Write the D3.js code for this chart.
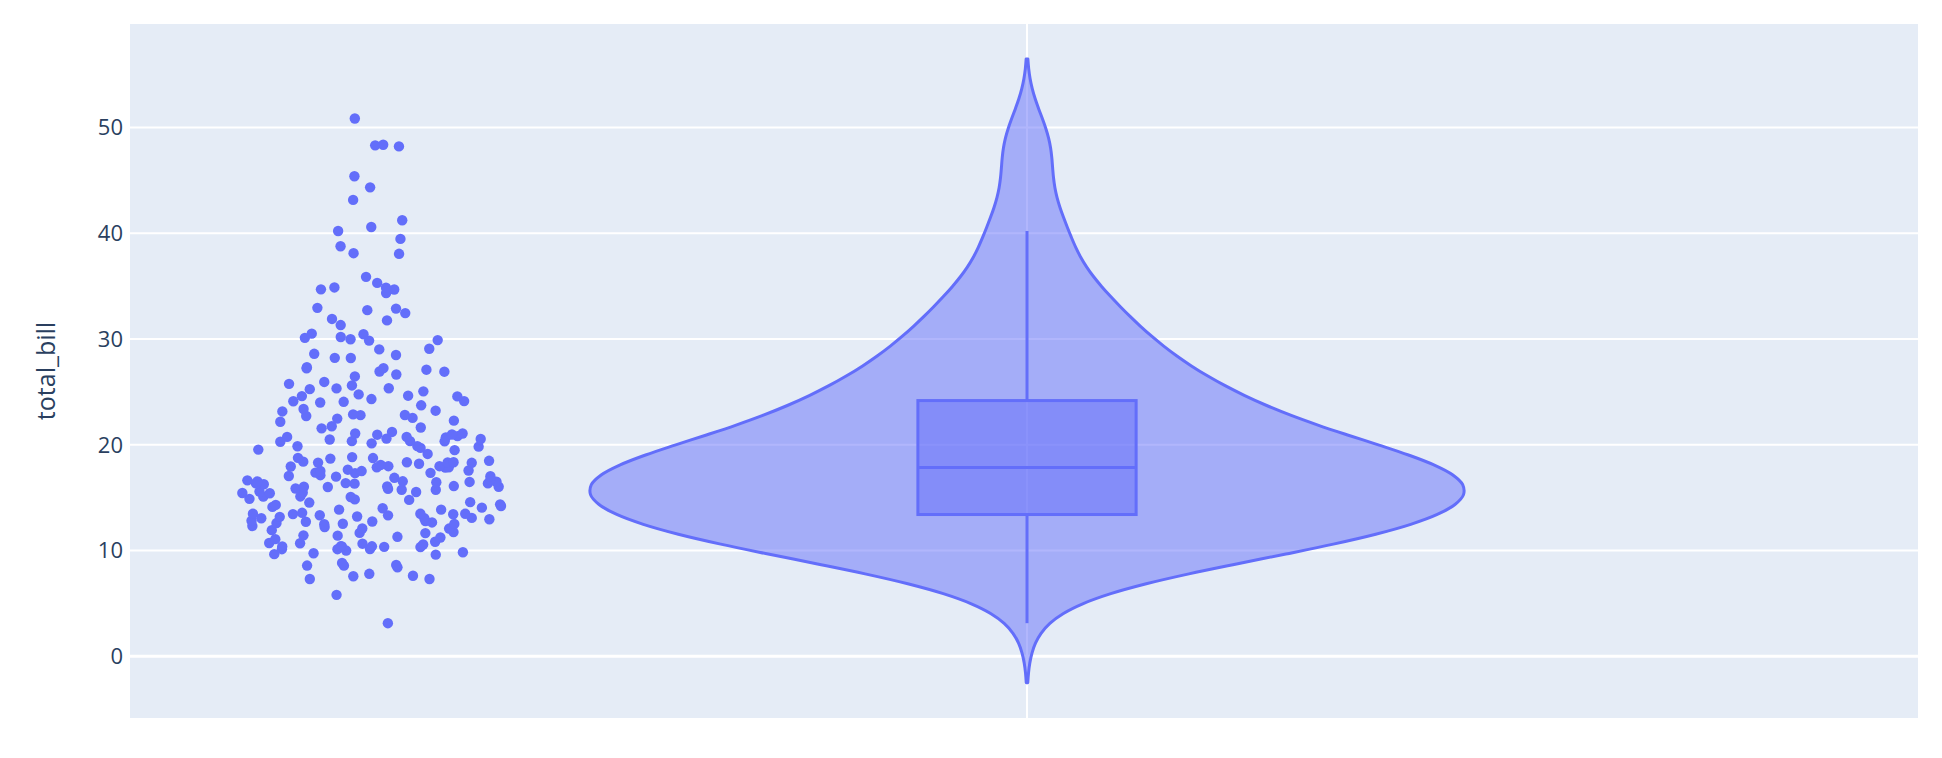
<!DOCTYPE html>
<html><head><meta charset="utf-8">
<script src="https://cdn.jsdelivr.net/npm/d3@7"></script>
<style>html,body{margin:0;padding:0;background:#fff;} svg{display:block;font-family:"Open Sans",verdana,arial,sans-serif;}</style>
</head><body><svg id="chart" width="1942" height="758"></svg>
<script>
// ---- data (tips dataset: total_bill) ----
const totalBill = [16.99,10.34,21.01,23.68,24.59,25.29,8.77,26.88,15.04,14.78,10.27,35.26,15.42,18.43,14.83,21.58,10.33,16.29,16.97,20.65,17.92,20.29,15.77,39.42,19.82,17.81,13.37,12.69,21.7,19.65,9.55,18.35,15.06,20.69,17.78,24.06,16.31,16.93,18.69,31.27,16.04,17.46,13.94,9.68,30.4,18.29,22.23,32.4,28.55,18.04,12.54,10.29,34.81,9.94,25.56,19.49,38.01,26.41,11.24,48.27,20.29,13.81,11.02,18.29,17.59,20.08,16.45,3.07,20.23,15.01,12.02,17.07,26.86,25.28,14.73,10.51,17.92,27.2,22.76,17.29,19.44,16.66,10.07,32.68,15.98,34.83,13.03,18.28,24.71,21.16,28.97,22.49,5.75,16.32,22.75,40.17,27.28,12.03,21.01,12.46,11.35,15.38,44.3,22.42,20.92,15.36,20.49,25.21,18.24,14.31,14.0,7.25,38.07,23.95,25.71,17.31,29.93,10.65,12.43,24.08,11.69,13.42,14.26,15.95,12.48,29.8,8.52,14.52,11.38,22.82,19.08,20.27,11.17,12.26,18.26,8.51,10.33,14.15,16.0,13.16,17.47,34.3,41.19,27.05,16.43,8.35,18.64,11.87,9.78,7.51,14.07,13.13,17.26,24.55,19.77,29.85,48.17,25.0,13.39,16.49,21.5,12.66,16.21,13.81,17.51,24.52,20.76,31.71,10.59,10.63,50.81,15.81,7.25,31.85,16.82,32.9,17.89,14.48,9.6,34.63,34.65,23.33,45.35,23.17,40.55,20.69,20.9,30.46,18.15,23.1,15.69,19.81,28.44,15.48,16.58,7.56,10.34,43.11,13.0,13.51,18.71,12.74,13.0,16.4,20.53,16.47,26.59,38.73,24.27,12.76,30.06,25.89,48.33,13.27,28.17,12.9,28.15,11.59,7.74,30.14,12.16,13.42,8.58,15.98,13.42,16.27,10.09,20.45,13.28,22.12,24.01,15.69,11.61,10.77,15.53,10.07,12.6,32.83,35.83,29.03,27.18,22.67,17.82,18.78];
const yTicks = [0, 10, 20, 30, 40, 50];
const yDomain = [-5.9, 59.75];
const xDomain = [-1.0275, 1.0206];
const yTitle = "total_bill";

// ---- layout ----
const plot = {l: 130, r: 1918, t: 24, b: 718};
const color = "#636efa";
const svg = d3.select("#chart");

const y = d3.scaleLinear().domain(yDomain).range([plot.b, plot.t]);
const x = d3.scaleLinear().domain(xDomain).range([plot.l, plot.r]);

svg.append("rect").attr("x", plot.l).attr("y", plot.t)
  .attr("width", plot.r - plot.l).attr("height", plot.b - plot.t).attr("fill", "#E5ECF6");

// y axis grid + labels
const yAxis = d3.axisLeft(y).tickValues(yTicks).tickSize(-(plot.r - plot.l)).tickPadding(7).tickFormat(d3.format("d"));
const ga = svg.append("g").attr("transform", `translate(${plot.l},0)`).call(yAxis);
ga.select(".domain").remove();
ga.selectAll(".tick line").attr("stroke", "#fff").attr("stroke-width", d => d === 0 ? 3 : 2);
ga.selectAll(".tick text").attr("fill", "#2a3f5f").attr("font-size", 22)
  .attr("font-family", '"Open Sans",verdana,arial,sans-serif').attr("dy", "0.36em");

// x grid at category position 0
svg.append("line").attr("x1", x(0)).attr("x2", x(0)).attr("y1", plot.t).attr("y2", plot.b)
  .attr("stroke", "#fff").attr("stroke-width", 2);

// axis title
svg.append("text").attr("transform", `translate(55,${(plot.t + plot.b) / 2}) rotate(-90)`)
  .attr("text-anchor", "middle").attr("fill", "#2a3f5f").attr("font-size", 25).text(yTitle);

// ---- statistics ----
const sorted = totalBill.slice().sort((a, b) => a - b);
const n = sorted.length;
const sd = d3.deviation(sorted);
const q1 = d3.quantile(sorted, 0.25), med = d3.quantile(sorted, 0.5), q3 = d3.quantile(sorted, 0.75);
const iqr = q3 - q1;
const lowF = q1 - 1.5 * iqr, upF = q3 + 1.5 * iqr;
const lowW = d3.min(sorted.filter(v => v >= lowF));
const upW = d3.max(sorted.filter(v => v <= upF));

// KDE (gaussian, Silverman bandwidth)
const bw = 1.059 * Math.min(sd, iqr / 1.349) * Math.pow(n, -0.2);
const span = [sorted[0] - 2 * bw, sorted[n - 1] + 2 * bw];
const kde = t => {
  let s = 0;
  for (const v of sorted) { const u = (t - v) / bw; s += Math.exp(-0.5 * u * u); }
  return s / (n * bw * Math.sqrt(2 * Math.PI));
};
const steps = Math.ceil((span[1] - span[0]) / (bw / 3));
const stepSize = (span[1] - span[0]) / steps;
const density = d3.range(steps + 1).map(k => {
  const t = span[0] + k * stepSize;
  return {t, v: kde(t)};
});
const maxKDE = d3.max(density, d => d.v);
const bdPos = 0.5;
const scale = bdPos / maxKDE;

// ---- violin ----
const line = d3.line().curve(d3.curveCatmullRom.alpha(0.5));
const rightSide = density.map(d => [x(d.v * scale), y(d.t)]);
const leftSide = density.slice().reverse().map(d => [x(-d.v * scale), y(d.t)]);
const violinPath = line(rightSide) + "L" + line(leftSide).slice(1) + "Z";
svg.append("path").attr("d", violinPath)
  .attr("fill", "rgba(99,110,250,0.5)").attr("stroke", color).attr("stroke-width", 3)
  .attr("stroke-linejoin", "round");

// ---- inner box ----
const boxHalf = 0.25 * bdPos;
const gb = svg.append("g");
gb.append("line").attr("x1", x(0)).attr("x2", x(0)).attr("y1", y(q3)).attr("y2", y(upW))
  .attr("stroke", color).attr("stroke-width", 3);
gb.append("line").attr("x1", x(0)).attr("x2", x(0)).attr("y1", y(q1)).attr("y2", y(lowW))
  .attr("stroke", color).attr("stroke-width", 3);
gb.append("rect").attr("x", x(-boxHalf)).attr("y", y(q3))
  .attr("width", x(boxHalf) - x(-boxHalf)).attr("height", y(q1) - y(q3))
  .attr("fill", "rgba(99,110,250,0.5)").attr("stroke", color).attr("stroke-width", 3);
gb.append("line").attr("x1", x(-boxHalf)).attr("x2", x(boxHalf)).attr("y1", y(med)).attr("y2", y(med))
  .attr("stroke", color).attr("stroke-width", 3);

// ---- points (jittered alongside, spread scaled by the density) ----
let seed = 2000000000;
function jitterSeq() {
  const last = seed;
  seed = (69069 * seed + 1) % 4294967296;
  if (Math.abs(seed - last) < 429496729) return jitterSeq();
  return seed / 4294967296;
}
const pointpos = -1.5, jitter = 0.3;
const jf = sorted.map(v => Math.sqrt(kde(v) / maxKDE));
const maxJF = d3.max(jf) || 1;
const newJitter = jitter * 2 / maxJF;
const pts = sorted.map((v, i) => ({v, p: bdPos * (pointpos + newJitter * jf[i] * (jitterSeq() - 0.5))}));
svg.append("g").selectAll("circle").data(pts).join("circle")
  .attr("cx", d => x(d.p)).attr("cy", d => y(d.v)).attr("r", 5.2).attr("fill", color);
</script>
</body></html>
